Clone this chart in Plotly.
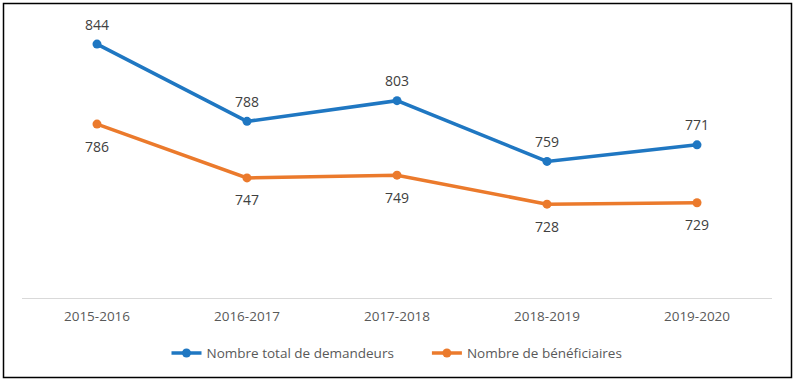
import plotly.graph_objects as go

categories = ["2015-2016", "2016-2017", "2017-2018", "2018-2019", "2019-2020"]
demandeurs = [844, 788, 803, 759, 771]
beneficiaires = [786, 747, 749, 728, 729]
series_names = ["Nombre total de demandeurs", "Nombre de bénéficiaires"]

BLUE = "#1F77C2"
ORANGE = "#EB7A2C"
FONT = "Open Sans"
FS = 13.5
GAP = "\u00a0" * 8

fig = go.Figure()
fig.add_trace(go.Scatter(
    x=categories, y=demandeurs, name=series_names[0] + GAP,
    mode="lines+markers",
    line=dict(color=BLUE, width=3.5), marker=dict(color=BLUE, size=9),
))
fig.add_trace(go.Scatter(
    x=categories, y=beneficiaires, name=series_names[1],
    mode="lines+markers",
    line=dict(color=ORANGE, width=3.5), marker=dict(color=ORANGE, size=9),
))

annotations = []
for c, v in zip(categories, demandeurs):
    annotations.append(dict(x=c, y=v, text=str(v), showarrow=False, yshift=20,
                            font=dict(family=FONT, size=14, color="#404040")))
for c, v in zip(categories, beneficiaires):
    annotations.append(dict(x=c, y=v, text=str(v), showarrow=False, yshift=-22,
                            font=dict(family=FONT, size=14, color="#404040")))

fig.update_layout(
    width=798, height=385,
    margin=dict(l=22, r=26, t=22, b=87),
    paper_bgcolor="white", plot_bgcolor="white",
    font=dict(family=FONT, size=FS, color="#595959"),
    xaxis=dict(range=[-0.5, 4.5], showgrid=False, showline=True,
               linecolor="#D9D9D9", linewidth=1, ticks="", zeroline=False,
               ticklabelstandoff=6,
               tickfont=dict(family=FONT, size=FS, color="#595959")),
    yaxis=dict(range=[660, 860], visible=False, showgrid=False, zeroline=False),
    showlegend=True,
    legend=dict(orientation="h", x=0.5, xanchor="center", y=-0.2, yanchor="middle",
                font=dict(family=FONT, size=FS, color="#595959"),
                itemwidth=30, tracegroupgap=0),
    annotations=annotations,
    shapes=[dict(type="rect", xref="paper", yref="paper",
                 x0=(3.5 - 22) / 750, x1=(791.5 - 22) / 750,
                 y0=(298 - 377.5) / 276, y1=(298 - 3.5) / 276,
                 line=dict(color="black", width=1.5), fillcolor="rgba(0,0,0,0)",
                 layer="above")],
)

fig.write_html("out.html", config={"displayModeBar": False},
               post_script="document.body.style.margin='0';")
